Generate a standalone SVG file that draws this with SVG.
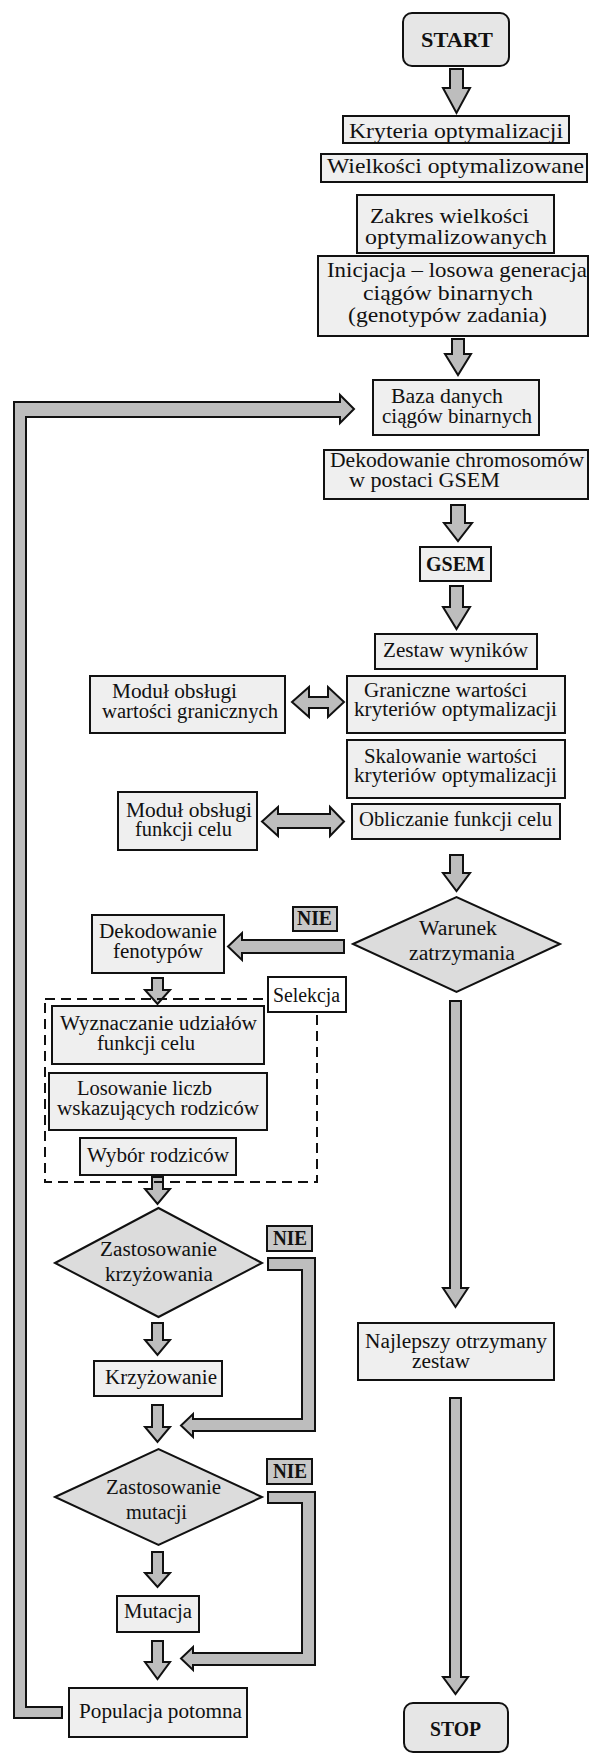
<svg xmlns="http://www.w3.org/2000/svg" width="589" height="1753" viewBox="0 0 589 1753">
<defs>
<style>
text{font-family:"Liberation Serif","Times New Roman",serif;font-size:21px;fill:#111}
.s{font-size:20px}
.b{font-weight:bold}
.box{fill:#efefef;stroke:#111;stroke-width:2}
.term{fill:#e6e6e6;stroke:#111;stroke-width:2}
.dia{fill:#dcdcdc;stroke:#111;stroke-width:2}
.nie{fill:#c8c8c8;stroke:#111;stroke-width:2}
.sel{fill:#fff;stroke:#111;stroke-width:2}
.dash{fill:none;stroke:#111;stroke-width:2;stroke-dasharray:10 6}
.arr{fill:#bdbdbd;stroke:#111;stroke-width:2;stroke-linejoin:miter}
</style>
</defs>
<rect width="589" height="1753" fill="#fff"/>

<g id="connectors">
<polygon class="arr" points="450,69 463,69 463,88 470,88 456.5,113 443,88 450,88"/>
<polygon class="arr" points="452,339 464,339 464,354 471,354 458,375 445,354 452,354"/>
<polygon class="arr" points="451,505 465,505 465,523 472,523 458,541 444,523 451,523"/>
<polygon class="arr" points="450,586 463,586 463,607 470,607 456.5,629 443,607 450,607"/>
<polygon class="arr" points="450,855 463,855 463,873 470,873 456.5,891 443,873 450,873"/>
<polygon class="arr" points="450,1001 461,1001 461,1288 468,1288 455.5,1307 443,1288 450,1288"/>
<polygon class="arr" points="450,1398 461,1398 461,1677 468,1677 455.5,1694 443,1677 450,1677"/>
<polygon class="arr" points="152,978 163,978 163,990 170,990 157.5,1004 145,990 152,990"/>
<polygon class="arr" points="152,1177 163,1177 163,1189 170,1189 157.5,1204 145,1189 152,1189"/>
<polygon class="arr" points="152,1323 163,1323 163,1340 170,1340 157.5,1355 145,1340 152,1340"/>
<polygon class="arr" points="152,1405 163,1405 163,1427 170,1427 157.5,1442 145,1427 152,1427"/>
<polygon class="arr" points="152,1552 163,1552 163,1573 170,1573 157.5,1587 145,1573 152,1573"/>
<polygon class="arr" points="152,1641 163,1641 163,1662 170,1662 157.5,1679 145,1662 152,1662"/>
<polygon class="arr" points="344,940 344,953 242,953 242,960 228,946.5 242,933 242,940"/>
<polygon class="arr" points="292,702 309,687 309,697 328,697 328,687 344,702 328,717 328,708 309,708 309,717"/>
<polygon class="arr" points="262,821.5 278,807 278,814 330,814 330,807 344,821.5 330,836 330,828 278,828 278,836"/>
<polygon class="arr" points="268,1258 315,1258 315,1431 193,1431 193,1437 181,1425.5 193,1414 193,1419 302,1419 302,1270 268,1270"/>
<polygon class="arr" points="268,1492 315,1492 315,1665 193,1665 193,1670 181,1658.5 193,1647 193,1653 302,1653 302,1503 268,1503"/>
<polygon class="arr" points="62,1707 26,1707 26,417 340,417 340,423 354,409 340,395 340,402 14,402 14,1718 62,1718"/>
</g>

<g id="start"><rect class="term" x="403" y="13" width="106" height="53" rx="9"/><text class="b" x="421" y="47" font-size="22" textLength="72" lengthAdjust="spacingAndGlyphs">START</text></g>
<g id="kryteria"><rect class="box" x="343" y="116" width="226" height="27"/><text x="349" y="138" textLength="214" lengthAdjust="spacingAndGlyphs">Kryteria optymalizacji</text></g>
<g id="wielkosci"><rect class="box" x="321" y="154" width="266" height="28"/><text x="327" y="173" textLength="257" lengthAdjust="spacingAndGlyphs">Wielkości optymalizowane</text></g>
<g id="zakres"><rect class="box" x="357" y="195" width="197" height="58"/><text x="370" y="223" textLength="159" lengthAdjust="spacingAndGlyphs">Zakres wielkości</text><text x="365" y="244" textLength="182" lengthAdjust="spacingAndGlyphs">optymalizowanych</text></g>
<g id="inicjacja"><rect class="box" x="318" y="256" width="270" height="80"/><text x="327" y="277" textLength="260" lengthAdjust="spacingAndGlyphs">Inicjacja – losowa generacja</text><text x="363" y="300" textLength="170" lengthAdjust="spacingAndGlyphs">ciągów binarnych</text><text x="348" y="322" textLength="199" lengthAdjust="spacingAndGlyphs">(genotypów zadania)</text></g>
<g id="baza"><rect class="box" x="373" y="380" width="166" height="55"/><text class="s" x="391" y="403" textLength="112" lengthAdjust="spacingAndGlyphs">Baza danych</text><text class="s" x="382" y="423" textLength="150" lengthAdjust="spacingAndGlyphs">ciągów binarnych</text></g>
<g id="dekodowanie-chromosomow"><rect class="box" x="324" y="450" width="264" height="49"/><text class="s" x="330" y="467" textLength="254" lengthAdjust="spacingAndGlyphs">Dekodowanie chromosomów</text><text class="s" x="349" y="487" textLength="151" lengthAdjust="spacingAndGlyphs">w postaci GSEM</text></g>
<g id="gsem"><rect class="box" x="420" y="547" width="71" height="34"/><text class="b" x="426" y="571" textLength="59" lengthAdjust="spacingAndGlyphs">GSEM</text></g>
<g id="zestaw"><rect class="box" x="375" y="634" width="162" height="35"/><text x="383" y="657" textLength="145" lengthAdjust="spacingAndGlyphs">Zestaw wyników</text></g>
<g id="modul-graniczne"><rect class="box" x="90" y="676" width="195" height="57"/><text class="s" x="112" y="698" textLength="125" lengthAdjust="spacingAndGlyphs">Moduł obsługi</text><text class="s" x="102" y="718" textLength="176" lengthAdjust="spacingAndGlyphs">wartości granicznych</text></g>
<g id="graniczne"><rect class="box" x="347" y="676" width="218" height="57"/><text class="s" x="364" y="697" textLength="163" lengthAdjust="spacingAndGlyphs">Graniczne wartości</text><text class="s" x="354" y="716" textLength="203" lengthAdjust="spacingAndGlyphs">kryteriów optymalizacji</text></g>
<g id="skalowanie"><rect class="box" x="347" y="740" width="218" height="58"/><text class="s" x="364" y="763" textLength="173" lengthAdjust="spacingAndGlyphs">Skalowanie wartości</text><text class="s" x="354" y="782" textLength="203" lengthAdjust="spacingAndGlyphs">kryteriów optymalizacji</text></g>
<g id="modul-funkcji"><rect class="box" x="118" y="792" width="139" height="58"/><text class="s" x="126" y="817" textLength="126" lengthAdjust="spacingAndGlyphs">Moduł obsługi</text><text class="s" x="135" y="836" textLength="97" lengthAdjust="spacingAndGlyphs">funkcji celu</text></g>
<g id="obliczanie"><rect class="box" x="352" y="804" width="208" height="35"/><text class="s" x="359" y="826" textLength="193" lengthAdjust="spacingAndGlyphs">Obliczanie funkcji celu</text></g>
<g id="warunek"><polygon class="dia" points="353,944 456.5,897 560,944 456.5,992"/><text class="s" x="419" y="935" textLength="78" lengthAdjust="spacingAndGlyphs">Warunek</text><text class="s" x="409" y="960" textLength="106" lengthAdjust="spacingAndGlyphs">zatrzymania</text></g>
<g id="nie-1"><rect class="nie" x="293" y="907" width="44" height="24"/><text class="b s" x="297" y="925" textLength="35" lengthAdjust="spacingAndGlyphs">NIE</text></g>
<g id="dekodowanie-fenotypow"><rect class="box" x="92" y="915" width="132" height="58"/><text class="s" x="99" y="938" textLength="118" lengthAdjust="spacingAndGlyphs">Dekodowanie</text><text class="s" x="113" y="958" textLength="90" lengthAdjust="spacingAndGlyphs">fenotypów</text></g>
<g id="selekcja"><rect class="dash" x="45" y="999" width="272" height="183"/><rect class="sel" x="268" y="977" width="78" height="35"/><text class="s" x="273" y="1002" textLength="67" lengthAdjust="spacingAndGlyphs">Selekcja</text></g>
<g id="wyznaczanie"><rect class="box" x="52" y="1006" width="212" height="58"/><text class="s" x="60" y="1030" textLength="197" lengthAdjust="spacingAndGlyphs">Wyznaczanie udziałów</text><text class="s" x="97" y="1050" textLength="98" lengthAdjust="spacingAndGlyphs">funkcji celu</text></g>
<g id="losowanie"><rect class="box" x="49" y="1073" width="218" height="57"/><text class="s" x="77" y="1095" textLength="135" lengthAdjust="spacingAndGlyphs">Losowanie liczb</text><text class="s" x="57" y="1115" textLength="202" lengthAdjust="spacingAndGlyphs">wskazujących rodziców</text></g>
<g id="wybor"><rect class="box" x="80" y="1138" width="156" height="37"/><text class="s" x="87" y="1162" textLength="142" lengthAdjust="spacingAndGlyphs">Wybór rodziców</text></g>
<g id="krzyzowanie-decyzja"><polygon class="dia" points="55,1263 158.5,1208 262,1263 158.5,1317"/><text class="s" x="100" y="1256" textLength="117" lengthAdjust="spacingAndGlyphs">Zastosowanie</text><text class="s" x="105" y="1281" textLength="108" lengthAdjust="spacingAndGlyphs">krzyżowania</text></g>
<g id="nie-2"><rect class="nie" x="267" y="1226" width="45" height="25"/><text class="b s" x="273" y="1245" textLength="34" lengthAdjust="spacingAndGlyphs">NIE</text></g>
<g id="najlepszy"><rect class="box" x="358" y="1323" width="196" height="57"/><text class="s" x="365" y="1348" textLength="182" lengthAdjust="spacingAndGlyphs">Najlepszy otrzymany</text><text class="s" x="412" y="1368" textLength="58" lengthAdjust="spacingAndGlyphs">zestaw</text></g>
<g id="krzyzowanie"><rect class="box" x="94" y="1361" width="128" height="35"/><text class="s" x="105" y="1384" textLength="112" lengthAdjust="spacingAndGlyphs">Krzyżowanie</text></g>
<g id="mutacja-decyzja"><polygon class="dia" points="55,1497 158.5,1449 262,1497 158.5,1545"/><text class="s" x="106" y="1494" textLength="115" lengthAdjust="spacingAndGlyphs">Zastosowanie</text><text class="s" x="126" y="1519" textLength="61" lengthAdjust="spacingAndGlyphs">mutacji</text></g>
<g id="nie-3"><rect class="nie" x="267" y="1459" width="45" height="25"/><text class="b s" x="273" y="1478" textLength="34" lengthAdjust="spacingAndGlyphs">NIE</text></g>
<g id="mutacja"><rect class="box" x="117" y="1596" width="82" height="36"/><text class="s" x="124" y="1618" textLength="68" lengthAdjust="spacingAndGlyphs">Mutacja</text></g>
<g id="populacja"><rect class="box" x="69" y="1688" width="178" height="49"/><text class="s" x="79" y="1718" textLength="163" lengthAdjust="spacingAndGlyphs">Populacja potomna</text></g>
<g id="stop"><rect class="term" x="404" y="1703" width="104" height="49" rx="9"/><text class="b s" x="430" y="1736" textLength="51" lengthAdjust="spacingAndGlyphs">STOP</text></g>
</svg>
